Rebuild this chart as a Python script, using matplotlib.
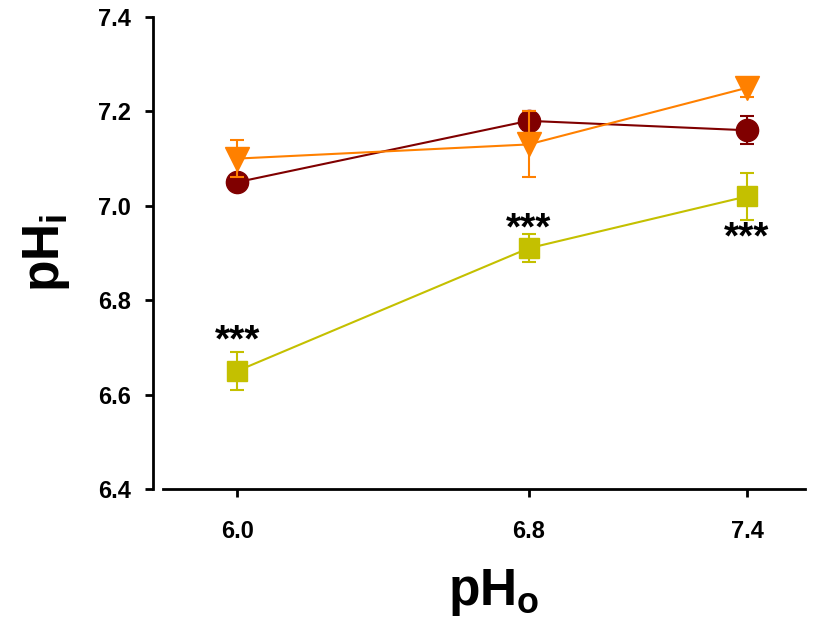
import matplotlib
matplotlib.use('Agg')
import matplotlib.pyplot as plt

plt.rcParams['font.family'] = ['Liberation Sans', 'DejaVu Sans']
plt.rcParams['mathtext.fontset'] = 'custom'
plt.rcParams['mathtext.rm'] = 'Liberation Sans'
plt.rcParams['mathtext.bf'] = 'Liberation Sans:bold'

ph_out = [6.0, 6.8, 7.4]
tick_labels = ['6.0', '6.8', '7.4']

red_vals = [7.05, 7.18, 7.16]
red_err = [0.015, 0.02, 0.03]
orange_vals = [7.10, 7.13, 7.25]
orange_err = [0.04, 0.07, 0.02]
yellow_vals = [6.65, 6.91, 7.02]
yellow_err = [0.04, 0.03, 0.05]

# positions of the *** marks
star_x = [6.0, 6.8, 7.4]
star_y = [6.712, 6.950, 6.930]

fig = plt.figure(figsize=(8.2, 6.2), dpi=100)
ax = fig.add_axes([153/820, 1-489/620, (805-153)/820, (489-17)/620])

ax.errorbar(ph_out, red_vals, yerr=red_err, color='#800000', marker='o',
            markersize=16, lw=1.5, elinewidth=1.5, capsize=5, capthick=1.5, zorder=3)
ax.errorbar(ph_out, orange_vals, yerr=orange_err, color='#FF8000', marker='v',
            markersize=17, lw=1.5, elinewidth=1.5, capsize=5, capthick=1.5, zorder=4)
ax.errorbar(ph_out, yellow_vals, yerr=yellow_err, color='#C4C000', marker='s',
            markersize=14, lw=1.5, elinewidth=1.5, capsize=5, capthick=1.5, zorder=3)

for x, y in zip(star_x, star_y):
    ax.text(x, y, '***', ha='center', va='center', fontsize=28, fontweight='bold', zorder=5)

ax.set_xlim(5.769, 7.559)
ax.set_ylim(6.4, 7.4)
ax.set_xticks(ph_out)
ax.set_xticklabels(tick_labels)
ax.set_yticks([6.4, 6.6, 6.8, 7.0, 7.2, 7.4])
ax.set_yticklabels(['6.4', '6.6', '6.8', '7.0', '7.2', '7.4'])

for s in ['top', 'right']:
    ax.spines[s].set_visible(False)
ax.spines['left'].set_linewidth(2)
ax.spines['bottom'].set_linewidth(2)
ax.spines['bottom'].set_bounds(5.797, 7.559)

ax.tick_params(axis='both', direction='out', length=6, width=2, labelsize=17)
ax.tick_params(axis='y', pad=10)
ax.tick_params(axis='x', pad=16)
for lab in ax.get_xticklabels() + ax.get_yticklabels():
    lab.set_fontweight('bold')

ax.set_xlabel(r'$\mathbf{pH_o}$', fontsize=37)
ax.set_ylabel(r'$\mathbf{pH_i}$', fontsize=37)
ax.xaxis.set_label_coords(0.522, -0.165)
ax.yaxis.set_label_coords(-0.124, 0.5)

fig.savefig('out.png', dpi=100)
